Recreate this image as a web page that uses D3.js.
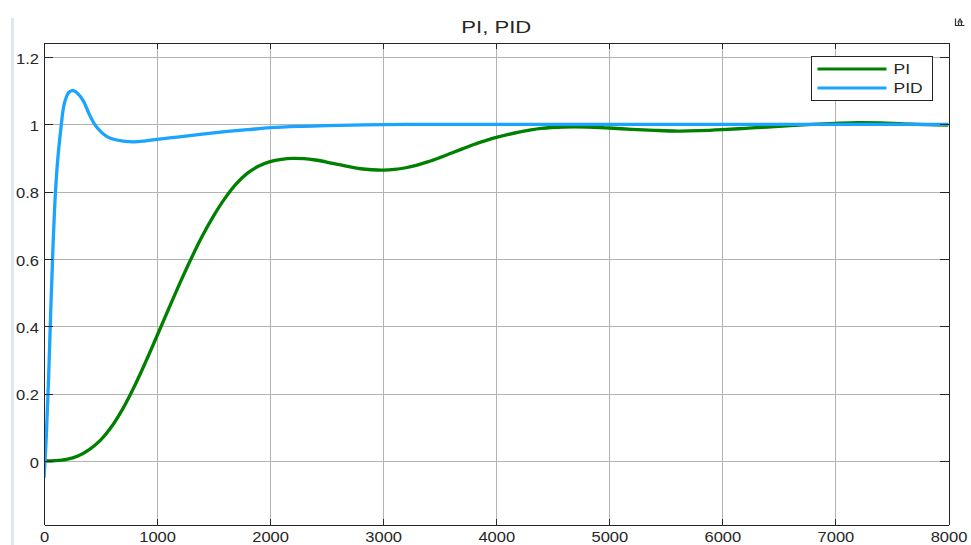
<!DOCTYPE html>
<html>
<head>
<meta charset="utf-8">
<script src="https://cdn.jsdelivr.net/npm/d3@7"></script>
<style>
  html, body { margin: 0; padding: 0; background: #fff; }
  svg { display: block; font-family: "Liberation Sans", Arial, sans-serif; }
</style>
</head>
<body>
<svg id="chart" width="971" height="545"></svg>
<script>
// Step responses of the closed loop with PI and PID controllers
const chartTitle = "PI, PID";
const seriesNames = ["PI", "PID"];

const piTime = [0, 100, 200, 300, 400, 500, 600, 700, 800, 900, 1000, 1100, 1200, 1300, 1400, 1500,
  1600, 1700, 1800, 1900, 2000, 2100, 2200, 2300, 2400, 2500, 2600, 2700, 2800, 2900, 3000,
  3100, 3200, 3300, 3400, 3500, 3600, 3700, 3800, 3900, 4000, 4200, 4400, 4600, 4800, 5000,
  5200, 5400, 5600, 5800, 6000, 6200, 6400, 6600, 6800, 7000, 7200, 7400, 7600, 7800, 8000];
const piValue = [0, 0.001, 0.005, 0.015, 0.034, 0.062, 0.103, 0.157, 0.222, 0.295, 0.372, 0.45, 0.527, 0.6, 0.668, 0.728,
  0.78, 0.823, 0.855, 0.876, 0.889, 0.896, 0.899, 0.898, 0.894, 0.888, 0.881, 0.874, 0.868, 0.865, 0.864,
  0.866, 0.871, 0.879, 0.889, 0.901, 0.914, 0.927, 0.94, 0.951, 0.961, 0.977, 0.988, 0.992, 0.992, 0.989,
  0.985, 0.982, 0.98, 0.981, 0.984, 0.988, 0.992, 0.996, 1.0, 1.003, 1.005, 1.004, 1.001, 0.999, 0.998];

const pidTime = [0, 20, 40, 60, 80, 100, 120, 150, 180, 220, 260, 300, 350, 400, 450, 500, 550, 600,
  700, 800, 900, 1000, 1200, 1400, 1600, 1800, 2000, 2250, 2500, 3000, 3500, 4000, 5000, 6000, 7000, 8000];
const pidValue = [-0.05, 0.07, 0.24, 0.45, 0.64, 0.79, 0.89, 0.99, 1.062, 1.095, 1.1, 1.091, 1.068, 1.03, 0.999, 0.979, 0.965, 0.957,
  0.95, 0.948, 0.951, 0.955, 0.963, 0.971, 0.978, 0.984, 0.99, 0.994, 0.996, 0.999, 1.0, 1.0, 1.0, 1.0, 1.0, 1.0];

const xTicks = [0, 1000, 2000, 3000, 4000, 5000, 6000, 7000, 8000];
const yTicks = [0, 0.2, 0.4, 0.6, 0.8, 1, 1.2];
const yTickLabels = ["0", "0.2", "0.4", "0.6", "0.8", "1", "1.2"];
const xLimits = [0, 8000];
const yLimits = [-0.1886, 1.243];

const colors = { PI: "#008000", PID: "#1aa3ff" };

const svg = d3.select("#chart");
const plot = { left: 44, right: 948.5, top: 42.5, bottom: 524.5 };
const textStretch = 1.18;

const x = d3.scaleLinear().domain(xLimits).range([plot.left, plot.right]);
const y = d3.scaleLinear().domain(yLimits).range([plot.bottom, plot.top]);

svg.append("rect").attr("width", 971).attr("height", 545).attr("fill", "#fff");

// light frame edge on the left of the figure
svg.append("rect").attr("x", 11).attr("y", 18).attr("width", 3).attr("height", 527).attr("fill", "#dde8f3");

// grid
const grid = svg.append("g").attr("shape-rendering", "crispEdges");
grid.selectAll("line.gx").data(xTicks.slice(1, -1)).join("line")
  .attr("x1", d => Math.round(x(d)) + 0.5).attr("x2", d => Math.round(x(d)) + 0.5)
  .attr("y1", plot.top).attr("y2", plot.bottom)
  .attr("stroke", "#b3b3b3").attr("stroke-width", 1);
grid.selectAll("line.gy").data(yTicks).join("line")
  .attr("y1", d => Math.round(y(d)) + 0.5).attr("y2", d => Math.round(y(d)) + 0.5)
  .attr("x1", plot.left).attr("x2", plot.right)
  .attr("stroke", "#b3b3b3").attr("stroke-width", 1);

// curves
svg.append("clipPath").attr("id", "plotClip").append("rect")
  .attr("x", plot.left).attr("y", plot.top)
  .attr("width", plot.right - plot.left).attr("height", plot.bottom - plot.top);

const line = d3.line().x(d => x(d[0])).y(d => y(d[1])).curve(d3.curveCatmullRom.alpha(0.5));
const curves = svg.append("g").attr("clip-path", "url(#plotClip)");
curves.append("path").datum(d3.zip(piTime, piValue))
  .attr("d", line).attr("fill", "none").attr("stroke", colors.PI)
  .attr("stroke-width", 3.3).attr("stroke-linejoin", "round");
curves.append("path").datum(d3.zip(pidTime, pidValue))
  .attr("d", line).attr("fill", "none").attr("stroke", colors.PID)
  .attr("stroke-width", 3.3).attr("stroke-linejoin", "round");

// axes with inward ticks on all four sides
function styleAxis(g) {
  g.select(".domain").attr("stroke", "#262626").attr("stroke-width", 1);
  g.selectAll(".tick line").attr("stroke", "#262626");
  g.attr("shape-rendering", "crispEdges");
}

const xAxis = svg.append("g").attr("transform", `translate(0,${plot.bottom})`)
  .call(d3.axisBottom(x).tickValues(xTicks).tickFormat(d3.format("d"))
    .tickSizeInner(-6).tickSizeOuter(0).tickPadding(8));
styleAxis(xAxis);
xAxis.selectAll(".tick text").attr("font-size", 14).attr("fill", "#262626")
  .attr("font-family", "Liberation Sans, Arial, sans-serif")
  .attr("transform", `scale(${textStretch},1)`);

const xTop = svg.append("g").attr("transform", `translate(0,${plot.top})`)
  .call(d3.axisTop(x).tickValues(xTicks).tickFormat("").tickSizeInner(-6).tickSizeOuter(0));
styleAxis(xTop);

const yAxis = svg.append("g").attr("transform", `translate(${plot.left},0)`)
  .call(d3.axisLeft(y).tickValues(yTicks).tickFormat((d, i) => yTickLabels[i])
    .tickSizeInner(-9).tickSizeOuter(0).tickPadding(5));
styleAxis(yAxis);
yAxis.selectAll(".tick text").attr("font-size", 14).attr("fill", "#262626")
  .attr("font-family", "Liberation Sans, Arial, sans-serif")
  .attr("x", 0).attr("dy", "0.43em")
  .attr("transform", `translate(-5,0) scale(${textStretch},1)`);

const yRight = svg.append("g").attr("transform", `translate(${plot.right},0)`)
  .call(d3.axisRight(y).tickValues(yTicks).tickFormat("").tickSizeInner(-9).tickSizeOuter(0));
styleAxis(yRight);

// title
svg.append("text").attr("x", (plot.left + plot.right) / 2).attr("y", 33)
  .attr("text-anchor", "middle").attr("font-size", 16).attr("fill", "#262626")
  .attr("textLength", 70).attr("lengthAdjust", "spacingAndGlyphs")
  .text(chartTitle);

// legend
const legend = svg.append("g").attr("transform", "translate(811.5,56.5)");
legend.append("rect").attr("width", 121).attr("height", 44)
  .attr("fill", "#fff").attr("stroke", "#262626").attr("stroke-width", 1)
  .attr("shape-rendering", "crispEdges");
seriesNames.forEach((name, i) => {
  const ly = 12.5 + i * 19;
  legend.append("line").attr("x1", 6).attr("x2", 75).attr("y1", ly).attr("y2", ly)
    .attr("stroke", colors[name]).attr("stroke-width", 3);
  legend.append("text").attr("transform", `translate(82,${ly + 5}) scale(1.25,1)`)
    .attr("font-size", 14).attr("fill", "#262626").text(name);
});

// restore-view icon in the corner
svg.append("path")
  .attr("d", "M955.5,18.5 V25.5 H964.5 M958.5,25.5 V23 M961.5,25.5 V21 M958,22 L960,19 L962,22 Z")
  .attr("fill", "none").attr("stroke", "#333").attr("stroke-width", 1.2);
</script>
</body>
</html>
